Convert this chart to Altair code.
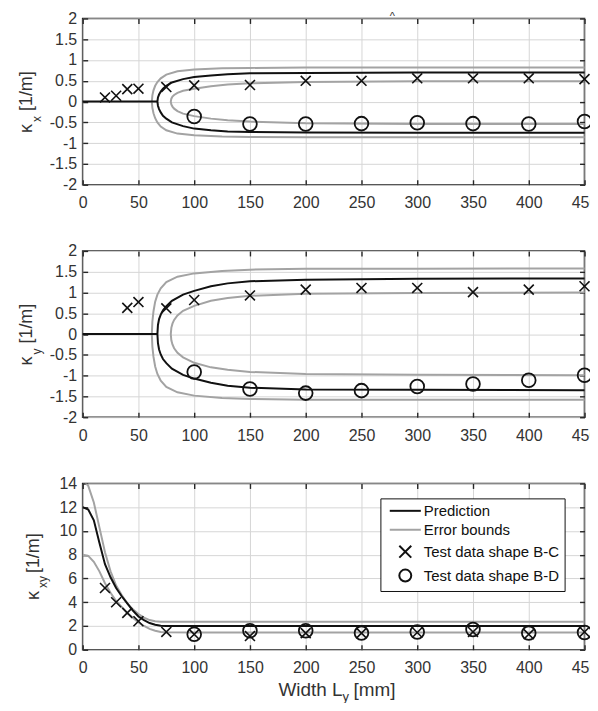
import altair as alt
import pandas as pd

FONT = "Liberation Sans"
BLACK = "#111111"
GRAY = "#a3a3a3"
TXT = "#333333"

X_TICKS = [0, 50, 100, 150, 200, 250, 300, 350, 400, 450]
K_TICKS = [-2, -1.5, -1, -0.5, 0, 0.5, 1, 1.5, 2]
KXY_TICKS = [0, 2, 4, 6, 8, 10, 12, 14]

SERIES = ["Prediction", "Error bounds", "Test data shape B-C", "Test data shape B-D"]

# ---- kappa_x panel ----
kx_zero_x = [0, 67]
kx_zero_y = [0, 0]
kx_pred_x = [67, 67.5, 68.5, 70, 72, 75, 80, 90, 100, 115, 130, 150, 200, 300, 450]
kx_pred_up = [0, 0.10, 0.17, 0.24, 0.31, 0.38, 0.46, 0.54, 0.59, 0.63, 0.66, 0.68, 0.69, 0.70, 0.70]
kx_pred_lo = [0, -0.10, -0.18, -0.26, -0.34, -0.41, -0.50, -0.59, -0.65, -0.69, -0.72, -0.73, -0.745, -0.75, -0.75]
kx_outer_x = [62, 62.5, 63.5, 65, 67, 70, 75, 85, 100, 125, 150, 200, 300, 450]
kx_outer_up = [0, 0.15, 0.27, 0.38, 0.47, 0.56, 0.65, 0.73, 0.77, 0.80, 0.81, 0.82, 0.82, 0.82]
kx_outer_lo = [0, -0.15, -0.28, -0.40, -0.50, -0.60, -0.69, -0.77, -0.81, -0.84, -0.85, -0.86, -0.86, -0.86]
kx_inner_x = [79, 79.5, 80.5, 82, 85, 90, 100, 115, 130, 150, 200, 300, 450]
kx_inner_up = [0, 0.07, 0.12, 0.16, 0.21, 0.26, 0.31, 0.37, 0.41, 0.44, 0.47, 0.49, 0.49]
kx_inner_lo = [0, -0.07, -0.12, -0.17, -0.23, -0.29, -0.35, -0.41, -0.45, -0.48, -0.52, -0.54, -0.54]
kx_bc_x = [20, 30, 40, 50, 75, 100, 150, 200, 250, 300, 350, 400, 450]
kx_bc_y = [0.10, 0.14, 0.30, 0.31, 0.35, 0.39, 0.40, 0.50, 0.50, 0.56, 0.56, 0.56, 0.54]
kx_bd_x = [100, 150, 200, 250, 300, 350, 400, 450]
kx_bd_y = [-0.36, -0.54, -0.54, -0.53, -0.51, -0.53, -0.54, -0.48]

# ---- kappa_y panel ----
ky_zero_x = [0, 67]
ky_zero_y = [0, 0]
ky_pred_x = [67, 67.5, 68.5, 70, 72, 75, 80, 90, 100, 115, 130, 150, 200, 300, 450]
ky_pred_up = [0, 0.22, 0.36, 0.47, 0.57, 0.67, 0.80, 0.95, 1.04, 1.15, 1.22, 1.27, 1.31, 1.33, 1.34]
ky_pred_lo = [0, -0.22, -0.37, -0.49, -0.60, -0.70, -0.83, -0.98, -1.07, -1.17, -1.24, -1.29, -1.33, -1.34, -1.35]
ky_outer_x = [62, 62.5, 63.5, 65, 67, 70, 75, 85, 100, 125, 150, 200, 300, 450]
ky_outer_up = [0, 0.30, 0.55, 0.78, 0.95, 1.10, 1.25, 1.38, 1.46, 1.52, 1.55, 1.57, 1.57, 1.58]
ky_outer_lo = [0, -0.30, -0.55, -0.78, -0.96, -1.12, -1.27, -1.40, -1.48, -1.54, -1.56, -1.58, -1.58, -1.58]
ky_inner_x = [79, 79.5, 80.5, 82, 85, 90, 100, 115, 130, 150, 200, 300, 450]
ky_inner_up = [0, 0.15, 0.25, 0.34, 0.45, 0.56, 0.68, 0.80, 0.87, 0.92, 0.97, 0.99, 1.00]
ky_inner_lo = [0, -0.15, -0.25, -0.34, -0.45, -0.56, -0.69, -0.80, -0.86, -0.91, -0.96, -0.98, -0.99]
ky_bc_x = [40, 50, 75, 100, 150, 200, 250, 300, 350, 400, 450]
ky_bc_y = [0.63, 0.77, 0.62, 0.82, 0.93, 1.07, 1.11, 1.11, 1.01, 1.07, 1.15]
ky_bd_x = [100, 150, 200, 250, 300, 350, 400, 450]
ky_bd_y = [-0.91, -1.32, -1.42, -1.36, -1.26, -1.20, -1.11, -0.99]

# ---- kappa_xy panel ----
kxy_x = [0, 5, 10, 15, 20, 25, 30, 35, 40, 45, 50, 55, 60, 65, 70, 75, 100, 200, 300, 450]
kxy_pred = [12.0, 11.8, 10.9, 9.0, 7.2, 6.1, 5.2, 4.5, 3.9, 3.3, 2.8, 2.5, 2.25, 2.1, 2.02, 2.0, 2.0, 2.0, 2.0, 2.0]
kxy_upper = [14.3, 13.8, 12.4, 10.3, 8.2, 6.6, 5.4, 4.6, 3.9, 3.4, 3.0, 2.7, 2.5, 2.4, 2.35, 2.35, 2.35, 2.35, 2.35, 2.35]
kxy_lower = [8.0, 7.9, 7.4, 6.6, 5.6, 4.8, 4.1, 3.6, 3.1, 2.7, 2.3, 2.0, 1.75, 1.6, 1.5, 1.47, 1.45, 1.45, 1.45, 1.45]
kxy_bc_x = [20, 30, 40, 50, 75, 100, 150, 200, 250, 300, 350, 400, 450]
kxy_bc_y = [5.2, 4.0, 3.1, 2.4, 1.5, 1.3, 1.15, 1.4, 1.4, 1.45, 1.5, 1.3, 1.5]
kxy_bd_x = [100, 150, 200, 250, 300, 350, 400, 450]
kxy_bd_y = [1.3, 1.6, 1.6, 1.4, 1.5, 1.7, 1.4, 1.45]

W, H = 504, 167
X_PATH = "M-1,-1L1,1M-1,1L1,-1"
LINE_PATH = "M-2.6,0L2.6,0"


def branch_rows(xs, up, lo, curve, series):
    pts = list(zip(xs[::-1], up[::-1])) + list(zip(xs[1:], lo[1:]))
    return [dict(x=float(a), y=float(b), curve=curve, series=series, o=i)
            for i, (a, b) in enumerate(pts)]


def seg_rows(xs, ys, curve, series):
    return [dict(x=float(a), y=float(b), curve=curve, series=series, o=i)
            for i, (a, b) in enumerate(zip(xs, ys))]


def pts_df(xs, ys, series):
    return pd.DataFrame({"x": xs, "y": ys, "series": [series] * len(xs)})


xscale = alt.Scale(domain=[0, 450], nice=False, zero=False)


def label_axis(orient, values, pad):
    return alt.Axis(orient=orient, values=values, grid=True, ticks=False, domain=False,
                    labels=True, title=None, labelPadding=pad, minExtent=0,
                    labelFlush=False, labelOverlap=False,
                    labelExpr="'' + datum.value")


def tick_axis(orient, values):
    return alt.Axis(orient=orient, values=values, grid=False, ticks=True, tickSize=5,
                    offset=-5, domain=False, labels=False, title=None,
                    minExtent=0, maxExtent=0)


one = pd.DataFrame({"a": [0]})


def txt(s, x, y, size, align="left", angle=270, baseline="middle"):
    return alt.Chart(one).mark_text(text=s, angle=angle, align=align, baseline=baseline,
                                    fontSize=size, font=FONT, color=TXT).encode(
        x=alt.value(x), y=alt.value(y))


def ytitle(sub, kx, ky, sx, sy, bx, by):
    return [txt("κ", kx, ky, 18), txt(sub, sx, sy, 12), txt("[1/m]", bx, by, 18)]


def k_panel(black_rows, gray_rows, bc, bd, yticks, sub, extra=None):
    yscale = alt.Scale(domain=[-2, 2], nice=False, zero=False)
    gray = alt.Chart(pd.DataFrame(gray_rows)).mark_line(color=GRAY, strokeWidth=2).encode(
        x=alt.X("x:Q", scale=xscale, axis=label_axis("bottom", X_TICKS, 10)),
        y=alt.Y("y:Q", scale=yscale, axis=label_axis("left", yticks, 6)),
        detail="curve:N", order="o:Q")
    black = alt.Chart(pd.DataFrame(black_rows)).mark_line(color=BLACK, strokeWidth=2).encode(
        x=alt.X("x:Q", scale=xscale, axis=tick_axis("top", X_TICKS)),
        y=alt.Y("y:Q", scale=yscale, axis=tick_axis("right", yticks)),
        detail="curve:N", order="o:Q")
    xs = alt.Chart(bc).mark_point(shape=X_PATH, filled=False, size=100, strokeWidth=1.6,
                                  color=BLACK, opacity=1).encode(
        x=alt.X("x:Q", scale=xscale, axis=tick_axis("bottom", X_TICKS)),
        y=alt.Y("y:Q", scale=yscale, axis=tick_axis("left", yticks)))
    os_ = alt.Chart(bd).mark_point(shape="circle", filled=False, size=190, strokeWidth=1.8,
                                   color=BLACK, opacity=1).encode(
        x=alt.X("x:Q", scale=xscale, axis=None),
        y=alt.Y("y:Q", scale=yscale, axis=None))
    layers = [gray, black, xs, os_] + ytitle(sub, -56, 115, -46, 104, -56, 93)
    if extra is not None:
        layers += extra
    return alt.layer(*layers).resolve_axis(x="independent", y="independent").properties(
        width=W, height=H)


p1 = k_panel(
    branch_rows(kx_pred_x, kx_pred_up, kx_pred_lo, "pred", SERIES[0]) +
    seg_rows(kx_zero_x, kx_zero_y, "zero", SERIES[0]),
    branch_rows(kx_outer_x, kx_outer_up, kx_outer_lo, "outer", SERIES[1]) +
    branch_rows(kx_inner_x, kx_inner_up, kx_inner_lo, "inner", SERIES[1]),
    pts_df(kx_bc_x, kx_bc_y, SERIES[2]), pts_df(kx_bd_x, kx_bd_y, SERIES[3]),
    K_TICKS, "x", extra=[txt("^", 311, -1.5, 11, align="center", angle=0)])

p2 = k_panel(
    branch_rows(ky_pred_x, ky_pred_up, ky_pred_lo, "pred", SERIES[0]) +
    seg_rows(ky_zero_x, ky_zero_y, "zero", SERIES[0]),
    branch_rows(ky_outer_x, ky_outer_up, ky_outer_lo, "outer", SERIES[1]) +
    branch_rows(ky_inner_x, ky_inner_up, ky_inner_lo, "inner", SERIES[1]),
    pts_df(ky_bc_x, ky_bc_y, SERIES[2]), pts_df(ky_bd_x, ky_bd_y, SERIES[3]),
    K_TICKS, "y")

# ---- bottom panel with legend ----
LEG = alt.Legend(title=None, orient="none", legendX=299, legendY=15, padding=5, rowPadding=3,
                 symbolOffset=12.5, labelOffset=11, labelFontSize=15, labelFont=FONT,
                 labelColor=BLACK, strokeColor=BLACK, fillColor="white",
                 symbolSize=144, symbolStrokeWidth=2, symbolFillColor="transparent")
color_enc = alt.Color("series:N", scale=alt.Scale(domain=SERIES, range=[BLACK, GRAY, BLACK, BLACK]),
                      legend=LEG)
shape_enc = alt.Shape("series:N", scale=alt.Scale(domain=SERIES,
                                                  range=[LINE_PATH, LINE_PATH, X_PATH, "circle"]),
                      legend=LEG)
yscale3 = alt.Scale(domain=[0, 14], nice=False, zero=False)
lines3 = pd.DataFrame(seg_rows(kxy_x, kxy_upper, "up", SERIES[1]) +
                      seg_rows(kxy_x, kxy_lower, "lo", SERIES[1]) +
                      seg_rows(kxy_x, kxy_pred, "pred", SERIES[0]))
gray3 = alt.Chart(lines3).transform_filter(alt.datum.series == SERIES[1]).mark_line(
    strokeWidth=2, clip=True).encode(
    x=alt.X("x:Q", scale=xscale, axis=label_axis("bottom", X_TICKS, 10)),
    y=alt.Y("y:Q", scale=yscale3, axis=label_axis("left", KXY_TICKS, 6)),
    color=color_enc, detail="curve:N", order="o:Q")
black3 = alt.Chart(lines3).transform_filter(alt.datum.series == SERIES[0]).mark_line(
    strokeWidth=2, clip=True).encode(
    x=alt.X("x:Q", scale=xscale, axis=tick_axis("top", X_TICKS)),
    y=alt.Y("y:Q", scale=yscale3, axis=tick_axis("right", KXY_TICKS)),
    color=color_enc, detail="curve:N", order="o:Q")
xs3 = alt.Chart(pts_df(kxy_bc_x, kxy_bc_y, SERIES[2])).mark_point(
    filled=False, size=100, strokeWidth=1.6, opacity=1).encode(
    x=alt.X("x:Q", scale=xscale, axis=tick_axis("bottom", X_TICKS)),
    y=alt.Y("y:Q", scale=yscale3, axis=tick_axis("left", KXY_TICKS)),
    color=color_enc, shape=shape_enc)
os3 = alt.Chart(pts_df(kxy_bd_x, kxy_bd_y, SERIES[3])).mark_point(
    filled=False, size=190, strokeWidth=1.8, opacity=1).encode(
    x=alt.X("x:Q", scale=xscale, axis=None),
    y=alt.Y("y:Q", scale=yscale3, axis=None),
    color=color_enc, shape=shape_enc)
xtitle = [txt("Width L", 261, 213, 19, align="right", angle=0, baseline="alphabetic"),
          txt("y", 261, 218, 13, align="left", angle=0, baseline="alphabetic"),
          txt("[mm]", 272, 213, 19, align="left", angle=0, baseline="alphabetic")]
p3 = alt.layer(gray3, black3, xs3, os3,
               *ytitle("xy", -49, 117, -40, 105, -49, 90), *xtitle).resolve_axis(
    x="independent", y="independent").properties(width=W, height=H)

chart = alt.vconcat(p1, p2, p3, spacing=66.5).resolve_legend(
    color="independent", shape="independent"
).properties(
    bounds="flush", padding={"left": 9, "top": 0, "right": -9.5, "bottom": -3}
).configure_view(stroke="#262626", strokeWidth=1.6).configure_axis(
    labelFont=FONT, labelFontSize=16, labelColor=TXT, gridColor="#d6d6d6", gridWidth=1,
    gridOpacity=1, tickColor="#262626", tickWidth=1.4
).configure_legend(symbolType="circle")

chart.save("out.html", embed_options={"renderer": "svg", "actions": False})
